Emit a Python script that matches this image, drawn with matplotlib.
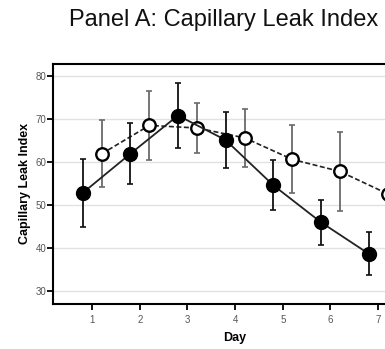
import matplotlib.pyplot as plt
import numpy as np

plt.rcParams['font.family'] = ['Liberation Sans', 'DejaVu Sans']

# Dữ liệu
days = [1, 2, 3, 4, 5, 6, 7]
filled_mean = [52.8, 61.9, 70.8, 65.1, 54.6, 46.0, 38.7]
filled_err = [7.8, 7.1, 7.5, 6.6, 5.8, 5.2, 5.0]
open_mean = [61.9, 68.5, 67.9, 65.6, 60.6, 57.8, 52.6]
open_err = [7.8, 8.1, 5.8, 6.7, 7.9, 9.1, 8.0]
y_ticks = [30, 40, 50, 60, 70, 80]

fig = plt.figure(figsize=(3.85, 3.49), dpi=100)
ax = fig.add_axes([0.138, 0.129, 0.943, 0.688])

x = np.array(days)
offset = 0.2

# Đường nét đứt, vòng tròn rỗng
ax.errorbar(x + offset, open_mean, yerr=open_err, fmt='none', ecolor='#6a6a6a',
            elinewidth=1.3, capsize=2, capthick=1.2, zorder=2)
ax.plot(x + offset, open_mean, linestyle=(0, (3, 1.5)), color='#222222', linewidth=1.2,
        marker='o', markersize=9, markerfacecolor='white', markeredgecolor='black',
        markeredgewidth=1.7, zorder=3)

# Đường liền, vòng tròn đặc
ax.errorbar(x - offset, filled_mean, yerr=filled_err, fmt='none', ecolor='#111111',
            elinewidth=1.3, capsize=2, capthick=1.2, zorder=4)
ax.plot(x - offset, filled_mean, linestyle='-', color='#222222', linewidth=1.3,
        marker='o', markersize=10, markerfacecolor='black', markeredgecolor='black',
        zorder=5)

ax.set_xlim(0.18, 7.8)
ax.set_ylim(27, 82.8)
ax.set_xticks(days)
ax.set_yticks(y_ticks)
ax.yaxis.grid(True, color='#e2e2e2', linewidth=1.0)
ax.set_axisbelow(True)

for s in ax.spines.values():
    s.set_linewidth(1.5)
    s.set_color('black')
ax.tick_params(axis='both', direction='out', length=4, width=1.3, color='black',
               labelsize=7, labelcolor='#555555', pad=1)
ax.tick_params(axis='x', pad=4)

ax.set_xlabel('Day', fontsize=9, fontweight='bold', labelpad=5)
ax.set_ylabel('Capillary Leak Index', fontsize=9, fontweight='bold', labelpad=3)

fig.text(0.582, 0.942, 'Panel A: Capillary Leak Index', fontsize=17, ha='center', va='center',
         color='#111111')

fig.savefig('out.png', dpi=100)
plt.close()
